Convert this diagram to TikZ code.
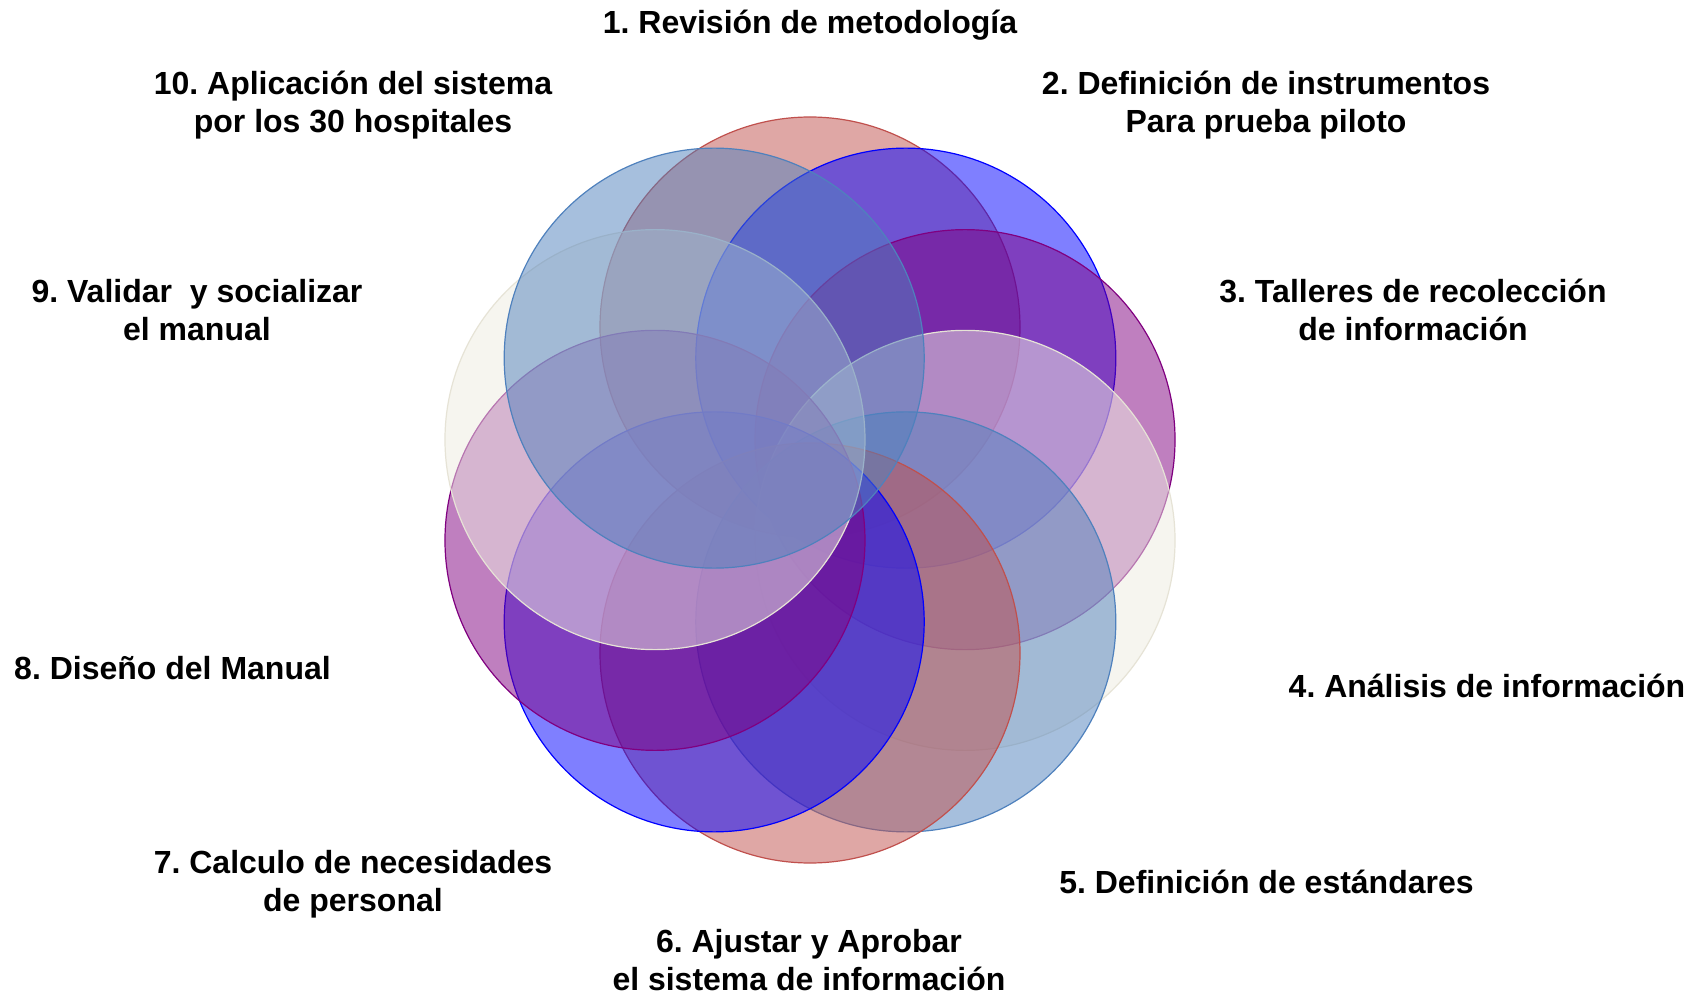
\documentclass[tikz,border=0pt]{standalone}
\usepackage{fontspec}
\setmainfont{Liberation Sans}
\usetikzlibrary{calc}
\definecolor{cred}{HTML}{C0504D}
\definecolor{cblue}{HTML}{0000FF}
\definecolor{cpurple}{HTML}{800080}
\definecolor{cbeige}{HTML}{E6E3D6}
\definecolor{cbeigefill}{HTML}{EEECE1}
\definecolor{csteel}{HTML}{4F81BD}
\frenchspacing
\begin{document}
\begin{tikzpicture}[x=1pt,y=1pt,
  ringc/.style={circle, minimum size=420pt, inner sep=0pt, outer sep=0pt, line width=1.2pt, fill opacity=0.5},
  lbl/.style={font=\fontsize{32}{38}\selectfont\bfseries, align=center, inner sep=0pt, text=black}]
\useasboundingbox (0,0) rectangle (1704,994);
\fill[white] (0,0) rectangle (1704,994);
\coordinate (o) at (810,504);
\foreach \k/\c/\f in {1/cred/cred,2/cblue/cblue,3/cpurple/cpurple,4/cbeige/cbeigefill,5/csteel/csteel,6/cred/cred,7/cblue/cblue,8/cpurple/cpurple,9/cbeige/cbeigefill,10/csteel/csteel}{
  \node[ringc, draw=\c, fill=\f] (k\k) at ($(o)+({90-36*(\k-1)}:163pt)$) {};
}
\node[lbl] (t1) at (810,968.5) {1. Revisión de metodología};
\node[lbl] (t2) at (1266,889.4) {2. Definición de instrumentos\\Para prueba piloto};
\node[lbl] (t3) at (1413,684) {3. Talleres de recolección\\de información};
\node[lbl] (t4) at (1487,308.5) {4. Análisis de información};
\node[lbl] (t5) at (1266.5,112) {5. Definición de estándares};
\node[lbl] (t6) at (809,34) {6. Ajustar y Aprobar\\el sistema de información};
\node[lbl] (t7) at (353,110) {7. Calculo de necesidades\\de personal};
\node[lbl] (t8) at (172.5,326) {8. Diseño del Manual};
\node[lbl] (t9) at (197,684) {9. Validar\ \ y socializar\\el manual};
\node[lbl] (t10) at (353,889.4) {10. Aplicación del sistema\\por los 30 hospitales};
\end{tikzpicture}
\end{document}
